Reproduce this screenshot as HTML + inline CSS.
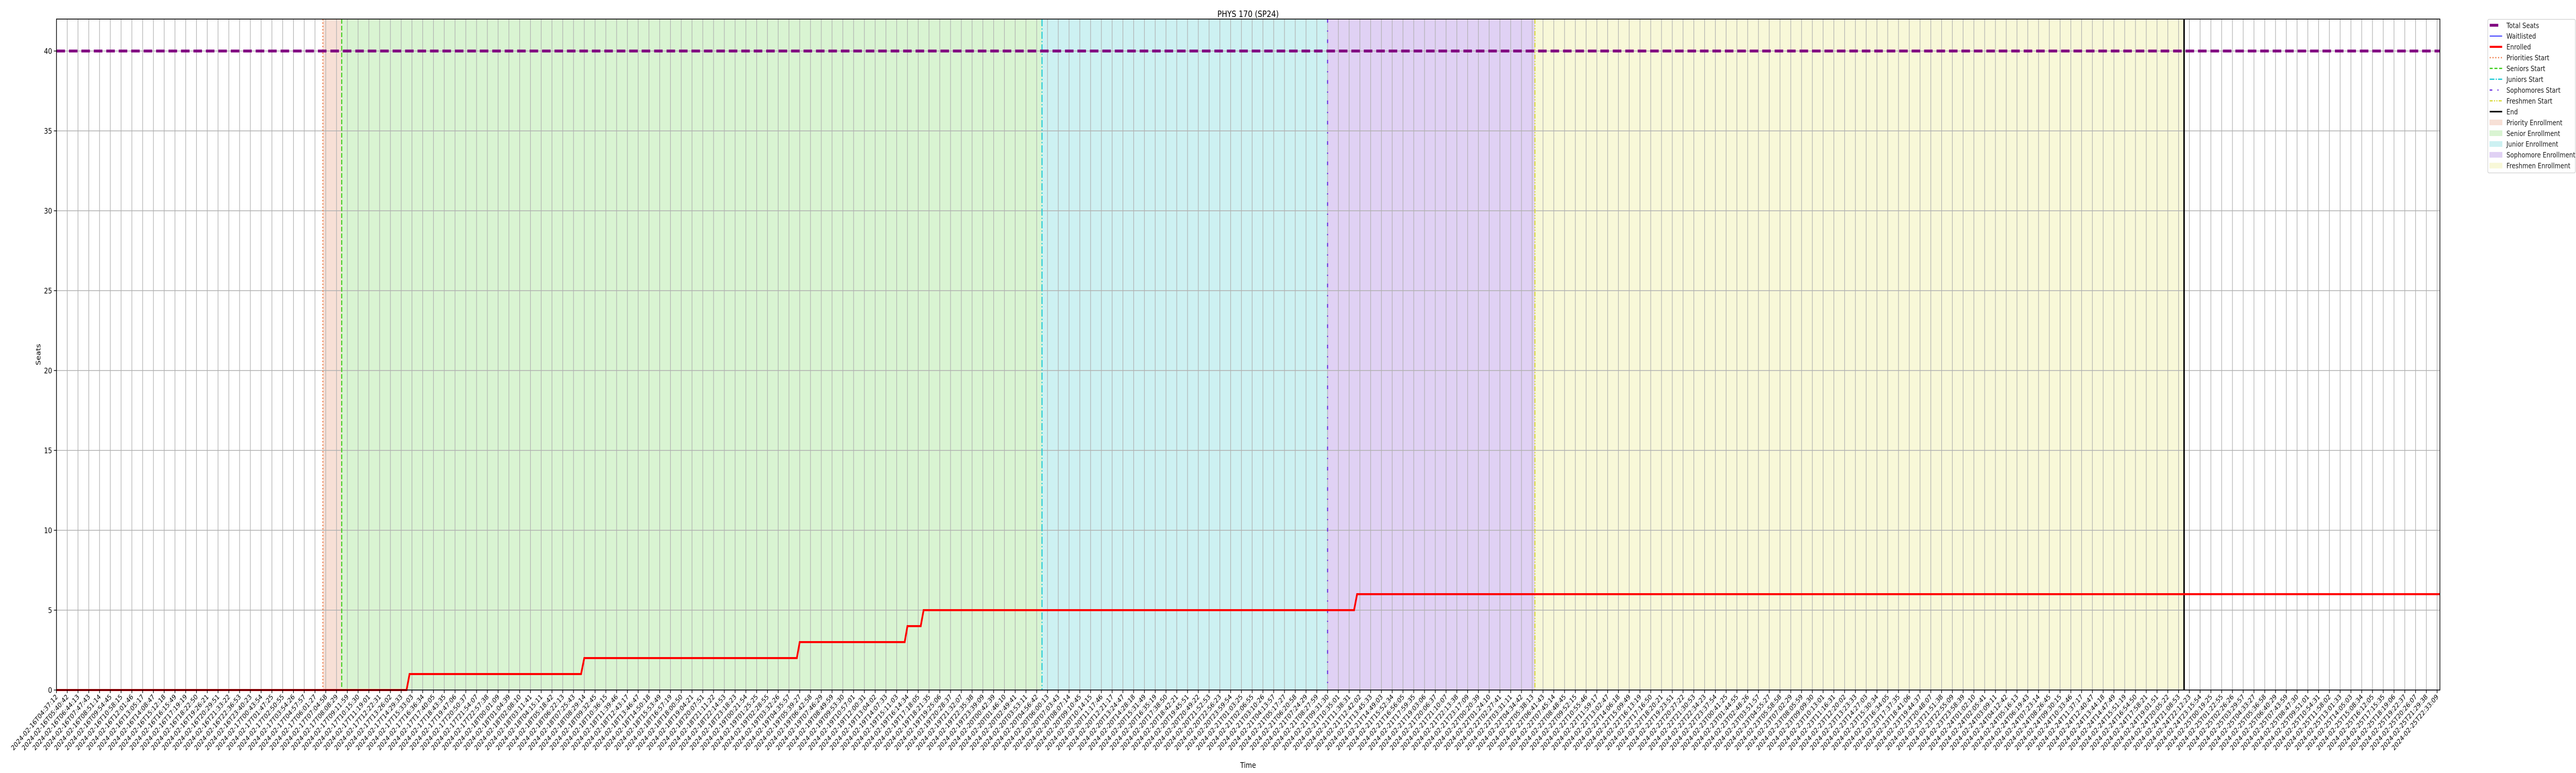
<!DOCTYPE html>
<html><head><meta charset="utf-8">
<style>
html,body{margin:0;padding:0;background:#fff;width:100%;height:100%;overflow:hidden;}
svg{display:block;font-family:"DejaVu Sans","Liberation Sans",sans-serif;position:absolute;left:0;top:0;width:100vw;height:100vh;}
</style></head>
<body>
<svg id="chart" viewBox="0 0 6000 1500" preserveAspectRatio="none" xmlns="http://www.w3.org/2000/svg">
<rect x="0" y="0" width="6000" height="1500" fill="#fff"/>
<g id="shades"></g>
<g id="grid"></g>
<g id="events"></g>
<g id="series"></g>
<g id="axes"></g>
<text x="2907" y="33" text-anchor="middle" font-size="17" fill="#000">PHYS 170 (SP24)</text>
<text x="2907" y="1490" text-anchor="middle" font-size="15" fill="#000">Time</text>
<text x="0" y="0" transform="translate(94,688) rotate(-90)" text-anchor="middle" font-size="15" fill="#000">Seats</text>
<g id="legend"></g>
</svg>
<script>
// ---- data (x in tick-index units) ----
const enrolledX = [0, 32.5, 32.78, 48.7, 49.0, 68.73, 69.0, 78.74, 79.0, 80.23, 80.5, 120.46, 120.74, 221.26];
const enrolledY = [0, 0, 1, 1, 2, 2, 3, 3, 4, 4, 5, 5, 6, 6];
const waitlistX = [0, 221.26];
const waitlistY = [0, 0];
const totalSeats = [40];
const phaseNames = ["Priorities Start", "Seniors Start", "Juniors Start", "Sophomores Start", "Freshmen Start", "End"];
const phaseX = [24.73, 26.48, 91.49, 118.0, 137.25, 197.51];
const yTicks = [0, 5, 10, 15, 20, 25, 30, 35, 40];
const tickCount = [222];
const tickStart = ["2024-02-16T04:37:12"];
const tickEnd = ["2024-02-25T22:33:09"];

// ---- layout ----
const L = 131.5, R = 5683, T = 37, B = 1339;
const xMax = 221.26, yMin = 0, yMax = 42;
const xs = v => L + (v / xMax) * (R - L);
const ys = v => B - (v - yMin) / (yMax - yMin) * (B - T);
const NS = "http://www.w3.org/2000/svg";
function mk(tag, attrs, parent) {
  const e = document.createElementNS(NS, tag);
  for (const k in attrs) e.setAttribute(k, attrs[k]);
  parent.appendChild(e);
  return e;
}
const gShades = document.getElementById('shades');
const gGrid = document.getElementById('grid');
const gEv = document.getElementById('events');
const gSer = document.getElementById('series');
const gAx = document.getElementById('axes');
const gLeg = document.getElementById('legend');

const N = tickCount[0];
const t0 = Date.parse(tickStart[0] + "Z"), t1 = Date.parse(tickEnd[0] + "Z");
const tickLabels = [];
for (let i = 0; i < N; i++) {
  const t = new Date(t0 + (t1 - t0) * i / (N - 1));
  tickLabels.push(t.toISOString().slice(0, 19));
}

const shadeNames = ["priority-enrollment", "senior-enrollment", "junior-enrollment", "sophomore-enrollment", "freshmen-enrollment"];
const shadeColors = ["#f7e0d6", "#d9f4d2", "#cdf1f2", "#e0d1f4", "#f8f8d8"];
for (let i = 0; i < 5; i++) {
  const r = mk('rect', {x: xs(phaseX[i]), y: T, width: xs(phaseX[i + 1]) - xs(phaseX[i]), height: B - T, fill: shadeColors[i]}, gShades);
  
  
}

for (let i = 0; i < N; i++) {
  const x = xs(i);
  const l = mk('line', {x1: x, x2: x, y1: T, y2: B, stroke: '#b0b0b0', 'stroke-width': 1.4}, gGrid);
  
  
}
yTicks.forEach(v => {
  const l = mk('line', {x1: L, x2: R, y1: ys(v), y2: ys(v), stroke: '#b0b0b0', 'stroke-width': 1.4}, gGrid);
  
  
});

const evStyles = [
  {stroke: '#ee7a45', w: 2.5, dash: '2.5 4'},
  {stroke: '#3fcf1e', w: 2.5, dash: '9 4'},
  {stroke: '#1ecbd6', w: 2.5, dash: '14 4 2.5 4'},
  {stroke: '#6a2fe0', w: 2.5, dash: '7 15 2.5 15'},
  {stroke: '#d9d93a', w: 2.5, dash: '9 3 2.5 3 2.5 3'},
  {stroke: '#000', w: 3.5, dash: ''}
];
const evNames = ["priorities-start-line", "seniors-start-line", "juniors-start-line", "sophomores-start-line", "freshmen-start-line", "end-line"];
phaseX.forEach((v, i) => {
  const s = evStyles[i];
  const l = mk('line', {x1: xs(v), x2: xs(v), y1: T, y2: B, stroke: s.stroke, 'stroke-width': s.w}, gEv);
  if (s.dash) l.setAttribute('stroke-dasharray', s.dash);
  
  
});

const ts = mk('line', {x1: L, x2: R, y1: ys(totalSeats[0]), y2: ys(totalSeats[0]), stroke: '#800080', 'stroke-width': 5.5, 'stroke-dasharray': '20 9'}, gSer);



let d = '';
enrolledX.forEach((v, i) => { d += (i ? 'L' : 'M') + xs(v).toFixed(2) + ' ' + ys(enrolledY[i]).toFixed(2); });
const en = mk('path', {d: d, fill: 'none', stroke: '#ff0000', 'stroke-width': 4}, gSer);



let dw = '';
waitlistX.forEach((v, i) => { dw += (i ? 'L' : 'M') + xs(v).toFixed(2) + ' ' + ys(waitlistY[i]).toFixed(2); });
const wl = mk('path', {d: dw, fill: 'none', stroke: '#0000ff', 'stroke-width': 1.3, opacity: 0.6}, gSer);



const fr = mk('rect', {x: L, y: T, width: R - L, height: B - T, fill: 'none', stroke: '#000', 'stroke-width': 1.6}, gAx);



yTicks.forEach(v => {
  const tk = mk('line', {x1: L - 6, x2: L, y1: ys(v), y2: ys(v), stroke: '#000', 'stroke-width': 1.4}, gAx);
  
  
  const tx = mk('text', {x: L - 10, y: ys(v) + 5.5, 'text-anchor': 'end', 'font-size': 15, fill: '#000'}, gAx);
  tx.textContent = String(v);
  
  
});

for (let i = 0; i < N; i++) {
  const x = xs(i);
  const tk = mk('line', {x1: x, x2: x, y1: B, y2: B + 6, stroke: '#000', 'stroke-width': 1.4}, gAx);
  
  
  const tx = mk('text', {x: 0, y: 0, 'text-anchor': 'end', 'font-size': 13.5, fill: '#000', transform: 'translate(' + (x + 4) + ',' + (B + 14) + ') rotate(-45)'}, gAx);
  tx.textContent = tickLabels[i];
  
  
}

const legBox = mk('rect', {x: 5794.5, y: 37.5, width: 204, height: 298, rx: 3, fill: '#fff', stroke: '#d0d0d0', 'stroke-width': 1.3}, gLeg);


const legItems = [
  {t: 'Total Seats', type: 'line', c: '#800080', w: 5.5, dash: '', x2: 5819},
  {t: 'Waitlisted', type: 'line', c: '#0000ff', w: 1.5, dash: ''},
  {t: 'Enrolled', type: 'line', c: '#ff0000', w: 4, dash: ''},
  {t: 'Priorities Start', type: 'line', c: '#ee7a45', w: 2.5, dash: '2.5 4'},
  {t: 'Seniors Start', type: 'line', c: '#3fcf1e', w: 2.5, dash: '7 4'},
  {t: 'Juniors Start', type: 'line', c: '#1ecbd6', w: 2.5, dash: '11 3 2.5 3'},
  {t: 'Sophomores Start', type: 'line', c: '#6a2fe0', w: 2.5, dash: '6 12 2.5 12'},
  {t: 'Freshmen Start', type: 'line', c: '#d9d93a', w: 2.5, dash: '7 3 2.5 3 2.5 3'},
  {t: 'End', type: 'line', c: '#000', w: 3, dash: ''},
  {t: 'Priority Enrollment', type: 'patch', c: '#f7e0d6'},
  {t: 'Senior Enrollment', type: 'patch', c: '#d9f4d2'},
  {t: 'Junior Enrollment', type: 'patch', c: '#cdf1f2'},
  {t: 'Sophomore Enrollment', type: 'patch', c: '#e0d1f4'},
  {t: 'Freshmen Enrollment', type: 'patch', c: '#f8f8d8'}
];
legItems.forEach((it, i) => {
  const cy = 49 + i * 20.95;
  const g = mk('g', {}, gLeg);
  
  
  if (it.type === 'line') {
    const l = mk('line', {x1: 5799, x2: it.x2 || 5828, y1: cy, y2: cy, stroke: it.c, 'stroke-width': it.w}, g);
    if (it.dash) l.setAttribute('stroke-dasharray', it.dash);
  } else {
    mk('rect', {x: 5799, y: cy - 5, width: 29, height: 10, fill: it.c, stroke: it.c}, g);
  }
  const tx = mk('text', {x: 5838, y: cy + 5.3, 'font-size': 14, fill: '#1a1a1a'}, g);
  tx.textContent = it.t;
});
</script>
</body></html>
